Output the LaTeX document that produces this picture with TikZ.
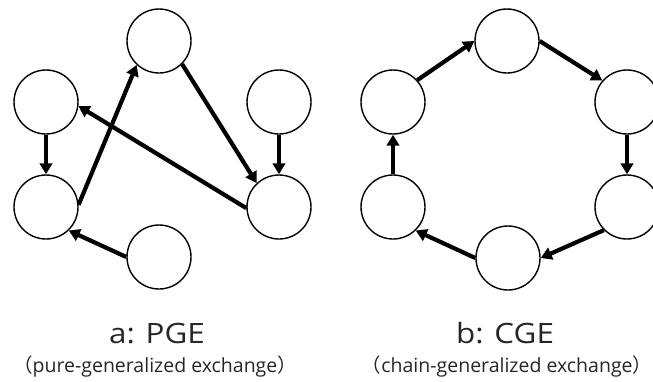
\documentclass[tikz,border=0pt]{standalone}
\usepackage{fontspec}
\setmainfont{Open Sans}
\newfontfamily\titlefont[FakeStretch=1.12]{Open Sans}
\newfontfamily\cjkfont{Noto Sans CJK JP}
\newcommand{\lpar}{{\cjkfont （}}
\newcommand{\rpar}{{\cjkfont ）}}
\usetikzlibrary{arrows.meta}
\begin{document}
\begin{tikzpicture}[x=1pt,y=-1pt,
  agent/.style={circle,draw,line width=1.4pt,minimum size=64pt,inner sep=0pt},
  flow/.style={line width=4.2pt,-{Triangle[length=11pt,width=12.5pt]}},
  title/.style={anchor=base,font=\titlefont\fontsize{28}{30}\selectfont,text=black!85},
  sub/.style={anchor=base,font=\fontsize{19.5}{22}\selectfont,text=black!85}]
\useasboundingbox (0,0) rectangle (653,381);
% left panel
\node[agent] (A) at (159,41) {};
\node[agent] (B) at (46,102) {};
\node[agent] (C) at (46,207) {};
\node[agent] (D) at (279,102) {};
\node[agent] (E) at (279,207) {};
\node[agent] (F) at (159,257) {};
\draw[flow] (B) -- (C);
\draw[flow] (C.4) -- (A.227);
\draw[flow] (A.-45) -- (E.133);
\draw[flow] (D) -- (E);
\draw[flow] (E.182) -- (B.-7);
\draw[flow] (F.180) -- (C.-46);
% right panel
\node[agent] (P) at (507,41) {};
\node[agent] (Q) at (393,102) {};
\node[agent] (R) at (393,207) {};
\node[agent] (S) at (627,102) {};
\node[agent] (T) at (627,207) {};
\node[agent] (U) at (508,258) {};
\draw[flow] (R) -- (Q);
\draw[flow] (Q.42) -- (P.180);
\draw[flow] (P.0) -- (S.139);
\draw[flow] (S) -- (T);
\draw[flow] (T.225) -- (U.0);
\draw[flow] (U.180) -- (R.-46);
% labels
\node[title] (ta) at (157,343) {a: PGE};
\node[sub] (sa) at (155,372) {\lpar pure-generalized exchange\rpar};
\node[title] (tb) at (505,343) {b: CGE};
\node[sub] (sb) at (507,372) {\lpar chain-generalized exchange\rpar};
\end{tikzpicture}
\end{document}
